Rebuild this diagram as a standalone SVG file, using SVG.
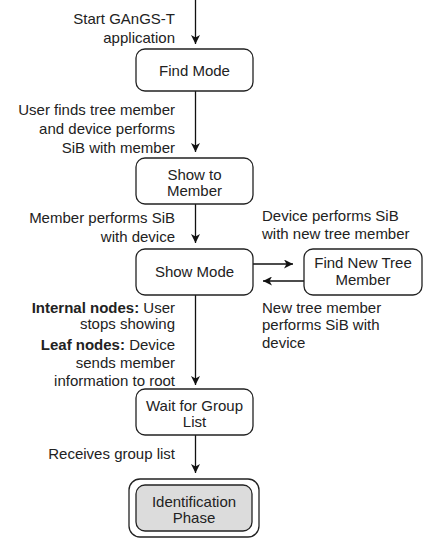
<svg xmlns="http://www.w3.org/2000/svg" width="433" height="540" viewBox="0 0 433 540">
<defs>
<marker id="ah" markerWidth="9" markerHeight="9" refX="9" refY="4.5" orient="auto" markerUnits="userSpaceOnUse">
<path d="M0,0 L9,4.5 L0,9 L2.5,4.5 Z" fill="#111"/>
</marker>
<style>
text{font-family:"Liberation Sans",Arial,sans-serif;font-size:15px;fill:#222}
.r{text-anchor:end}
.c{text-anchor:middle}
.b{font-weight:bold}
.box{fill:#fff;stroke:#222;stroke-width:1.3}
.edge{stroke:#111;stroke-width:1.3;fill:none;marker-end:url(#ah)}
</style>
</defs>
<rect width="433" height="540" fill="#fff"/>
<g id="connectors">
<line class="edge" x1="195.5" y1="0" x2="195.5" y2="44"/>
<line class="edge" x1="195.5" y1="91" x2="195.5" y2="152"/>
<line class="edge" x1="195.5" y1="204" x2="195.5" y2="243"/>
<line class="edge" x1="195.5" y1="295" x2="195.5" y2="385"/>
<line class="edge" x1="195.5" y1="435" x2="195.5" y2="473"/>
<line class="edge" x1="253" y1="264" x2="293" y2="264"/>
<line class="edge" x1="304" y1="281" x2="263" y2="281"/>
</g>
<g id="labels">
<text class="r" x="175" y="24">Start GAnGS-T</text>
<text class="r" x="175" y="43">application</text>
<text class="r" x="175" y="115">User finds tree member</text>
<text class="r" x="175" y="134">and device performs</text>
<text class="r" x="175" y="153">SiB with member</text>
<text class="r" x="175" y="223">Member performs SiB</text>
<text class="r" x="175" y="242">with device</text>
<text x="262" y="221">Device performs SiB</text>
<text x="262" y="239">with new tree member</text>
<text x="262" y="313">New tree member</text>
<text x="262" y="330">performs SiB with</text>
<text x="262" y="348">device</text>
<text class="r" x="175" y="313"><tspan class="b">Internal nodes:</tspan> User</text>
<text class="r" x="175" y="329">stops showing</text>
<text class="r" x="175" y="350"><tspan class="b">Leaf nodes:</tspan> Device</text>
<text class="r" x="175" y="368">sends member</text>
<text class="r" x="175" y="386">information to root</text>
<text class="r" x="175" y="459">Receives group list</text>
</g>
<g id="find-mode">
<rect class="box" x="136" y="49" width="117" height="42" rx="9"/>
<text class="c" x="194.5" y="75.5">Find Mode</text>
</g>
<g id="show-to-member">
<rect class="box" x="136" y="158" width="117" height="46" rx="9"/>
<text class="c" x="194.5" y="180">Show to</text>
<text class="c" x="194.5" y="196">Member</text>
</g>
<g id="show-mode">
<rect class="box" x="136" y="249" width="117" height="46" rx="9"/>
<text class="c" x="194.5" y="277">Show Mode</text>
</g>
<g id="find-new-tree-member">
<rect class="box" x="304" y="249" width="118" height="46" rx="9"/>
<text class="c" x="363" y="268">Find New Tree</text>
<text class="c" x="363" y="285">Member</text>
</g>
<g id="wait-for-group-list">
<rect class="box" x="136" y="389" width="117" height="46" rx="9"/>
<text class="c" x="194.5" y="411">Wait for Group</text>
<text class="c" x="194.5" y="427">List</text>
</g>
<g id="identification-phase">
<rect class="box" x="129" y="479" width="130" height="58" rx="11"/>
<rect class="box" x="136" y="485" width="116" height="46" rx="9" style="fill:#dcdcdc"/>
<text class="c" x="194" y="507">Identification</text>
<text class="c" x="194" y="523">Phase</text>
</g>
</svg>
